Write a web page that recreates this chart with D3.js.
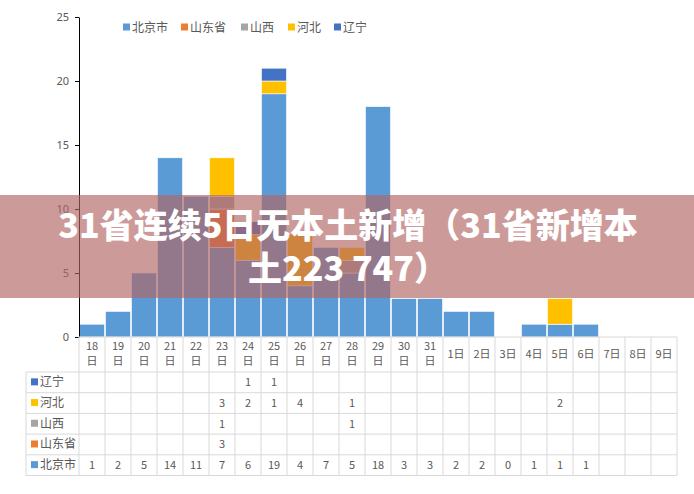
<!DOCTYPE html>
<html>
<head>
<meta charset="utf-8">
<script src="https://cdn.jsdelivr.net/npm/d3@7"></script>
<style>
  html, body { margin: 0; padding: 0; background: #fff; }
  svg { display: block; font-family: "Noto Sans CJK SC", "Noto Sans", sans-serif; }
</style>
</head>
<body>
<div id="chart"></div>
<script>
// categories (day labels)
const days = ['18', '19', '20', '21', '22', '23', '24', '25', '26', '27', '28', '29', '30', '31',
              '1', '2', '3', '4', '5', '6', '7', '8', '9'];
const seriesNames = ['北京市', '山东省', '山西', '河北', '辽宁'];
const seriesColors = ['#5b9bd5', '#ed7d31', '#a5a5a5', '#ffc000', '#4472c4'];

// values per series, null = blank cell
const beijing  = [1, 2, 5, 14, 11, 7, 6, 19, 4, 7, 5, 18, 3, 3, 2, 2, 0, 1, 1, 1, null, null, null];
const shandong = [null, null, null, null, null, 3, null, null, null, null, null, null, null, null, null, null, null, null, null, null, null, null, null];
const shanxi   = [null, null, null, null, null, 1, null, null, null, null, 1, null, null, null, null, null, null, null, null, null, null, null, null];
const hebei    = [null, null, null, null, null, 3, 2, 1, 4, null, 1, null, null, null, null, null, null, null, 2, null, null, null, null];
const liaoning = [null, null, null, null, null, null, 1, 1, null, null, null, null, null, null, null, null, null, null, null, null, null, null, null];
const seriesValues = [beijing, shandong, shanxi, hebei, liaoning];

const yTicks = [0, 5, 10, 15, 20, 25];
const titleLines = ['31省连续5日无本土新增（31省新增本', '土223 747）'];

const W = 694, H = 494;
const textColor = '#595959';
const gridColor = '#d9d9d9';

const svg = d3.select('#chart').append('svg')
    .attr('width', W)
    .attr('height', H);

const x = d3.scaleBand()
    .domain(days)
    .range([79, 677])
    .paddingInner(0.04)
    .paddingOuter(0.02);

const y = d3.scaleLinear()
    .domain([0, 25])
    .range([337, 17]);

// stacked data
const rows = days.map((d, i) => {
    const r = { day: d };
    seriesNames.forEach((s, k) => { r[s] = seriesValues[k][i] || 0; });
    return r;
});
const stacked = d3.stack().keys(seriesNames)(rows);

const bars = svg.append('g').attr('class', 'bars');
stacked.forEach((layer, k) => {
    bars.append('g')
        .attr('fill', seriesColors[k])
        .selectAll('rect')
        .data(layer.filter(p => p[1] > p[0]))
        .enter()
        .append('rect')
        .attr('x', p => x(p.data.day))
        .attr('y', p => y(p[1]))
        .attr('width', x.bandwidth())
        .attr('height', p => y(p[0]) - y(p[1]))
        .attr('stroke', '#fff')
        .attr('stroke-width', 0.6);
});

// y axis
const yAxis = svg.append('g')
    .attr('transform', 'translate(79,0)')
    .call(d3.axisLeft(y).tickValues(yTicks).tickSize(4).tickSizeOuter(0));
yAxis.select('.domain').attr('stroke', '#000');
yAxis.selectAll('.tick line').attr('stroke', '#000');
yAxis.selectAll('.tick text')
    .attr('fill', textColor)
    .attr('font-size', 11)
    .attr('x', -10)
    .attr('font-family', '"Noto Sans", sans-serif');

// legend on top
const legendX = [123, 181, 241, 288, 334];
const legend = svg.append('g').attr('class', 'legend');
seriesNames.forEach((s, k) => {
    legend.append('rect')
        .attr('x', legendX[k]).attr('y', 23.5)
        .attr('width', 7).attr('height', 7)
        .attr('fill', seriesColors[k]);
    legend.append('text')
        .attr('x', legendX[k] + 9).attr('y', 31.5)
        .attr('font-size', 12)
        .attr('fill', textColor)
        .text(s);
});

// data table
const tableTop = 337, headerBottom = 372, rowH = 20.7;
const colEdges = [79].concat(days.map((d, i) => 79 + (i + 1) * (598 / days.length)));
const tableRight = colEdges[colEdges.length - 1];
const tableRows = seriesNames.slice().reverse();
const tableBottom = headerBottom + rowH * tableRows.length;
const table = svg.append('g').attr('class', 'table');

// grid lines
table.append('line')
    .attr('x1', 79).attr('x2', tableRight)
    .attr('y1', tableTop).attr('y2', tableTop)
    .attr('stroke', gridColor);
for (let r = 0; r <= tableRows.length; r++) {
    const yy = headerBottom + r * rowH;
    table.append('line')
        .attr('x1', 26).attr('x2', tableRight)
        .attr('y1', yy).attr('y2', yy)
        .attr('stroke', gridColor);
}
colEdges.forEach((cx, i) => {
    table.append('line')
        .attr('x1', cx).attr('x2', cx)
        .attr('y1', tableTop).attr('y2', tableBottom)
        .attr('stroke', gridColor);
});
table.append('line')
    .attr('x1', 26).attr('x2', 26)
    .attr('y1', headerBottom).attr('y2', tableBottom)
    .attr('stroke', gridColor);

// header labels
days.forEach((d, i) => {
    const cx = (colEdges[i] + colEdges[i + 1]) / 2;
    const t = table.append('text')
        .attr('text-anchor', 'middle')
        .attr('font-size', 11)
        .attr('fill', textColor);
    if (i < 14) {
        t.append('tspan').attr('x', cx).attr('y', 350).text(d);
        t.append('tspan').attr('x', cx).attr('y', 365).text('日');
    } else {
        t.attr('x', cx).attr('y', 358).text(d + '日');
    }
});

// row labels and values
tableRows.forEach((s, r) => {
    const k = seriesNames.indexOf(s);
    const cy = headerBottom + r * rowH + rowH / 2;
    table.append('rect')
        .attr('x', 31).attr('y', cy - 4)
        .attr('width', 7).attr('height', 7)
        .attr('fill', seriesColors[k]);
    table.append('text')
        .attr('x', 40).attr('y', cy + 4)
        .attr('font-size', 12)
        .attr('fill', textColor)
        .text(s);
    seriesValues[k].forEach((v, i) => {
        if (v === null) return;
        table.append('text')
            .attr('x', (colEdges[i] + colEdges[i + 1]) / 2)
            .attr('y', cy + 4)
            .attr('text-anchor', 'middle')
            .attr('font-size', 11)
            .attr('fill', textColor)
            .text(v);
    });
});

// title banner overlay
svg.append('rect')
    .attr('x', 0).attr('y', 195)
    .attr('width', W).attr('height', 103)
    .attr('fill', 'rgb(178,100,100)')
    .attr('fill-opacity', 0.65);

titleLines.forEach((line, i) => {
    svg.append('text')
        .attr('x', 348).attr('y', 238 + i * 43)
        .attr('text-anchor', 'middle')
        .attr('font-size', 34)
        .attr('font-weight', 900)
        .attr('fill', '#fff')
        .text(line);
});
</script>
</body>
</html>
